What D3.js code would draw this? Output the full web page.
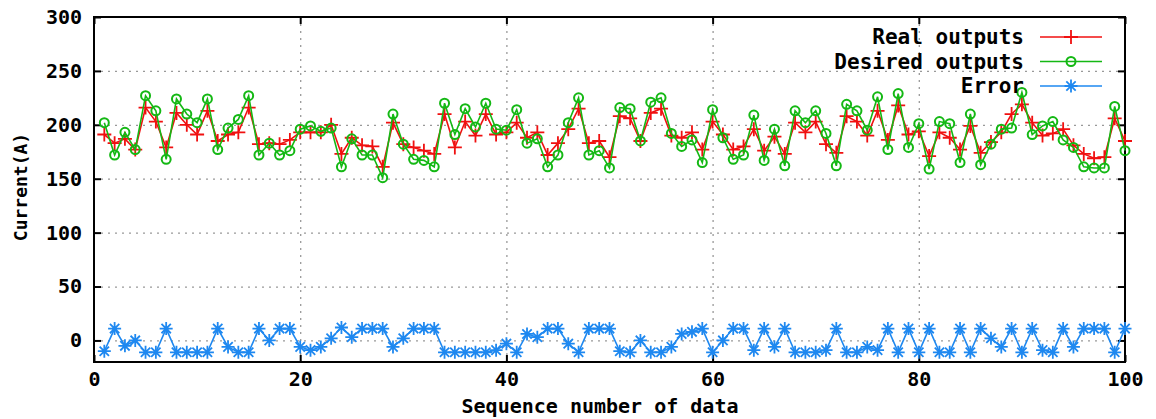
<!DOCTYPE html>
<html>
<head>
<meta charset="utf-8">
<script src="https://cdn.jsdelivr.net/npm/d3@7"></script>
<style>
  body { margin: 0; background: #fff; }
  text { font-family: "DejaVu Sans Mono", "Liberation Mono", monospace; font-weight: bold; fill: #000; }
</style>
</head>
<body>
<div id="chart"></div>
<script>
// sequence numbers 1..100
var seq = d3.range(1, 101);

var realOutputs = [
  191, 183, 187, 177, 216, 203, 179, 211, 200, 191,
  213, 185, 191, 193, 216, 182, 183, 182, 186, 193,
  193, 193, 200, 173, 188, 181, 180, 161, 202, 182,
  179, 176, 173, 210, 179, 203, 190, 210, 191, 193,
  202, 188, 193, 172, 183, 196, 215, 183, 185, 170,
  208, 206, 185, 211, 215, 190, 188, 193, 177, 203,
  191, 177, 180, 196, 176, 189, 173, 202, 193, 203,
  182, 174, 208, 203, 190, 213, 186, 218, 191, 194,
  171, 193, 188, 177, 199, 174, 184, 193, 210, 219,
  202, 190, 192, 196, 181, 173, 169, 170, 206, 185
];

var desiredOutputs = [
  202, 172, 193, 177, 227, 213, 168, 224, 210, 202,
  224, 177, 197, 205, 227, 172, 183, 172, 176, 196,
  199, 194, 197, 161, 187, 172, 172, 151, 210, 182,
  168, 167, 161, 220, 191, 215, 198, 220, 196, 195,
  214, 183, 187, 161, 172, 202, 225, 172, 176, 160,
  216, 215, 185, 221, 225, 192, 180, 186, 165, 214,
  188, 168, 172, 209, 167, 196, 162, 213, 202, 213,
  192, 162, 219, 213, 195, 226, 177, 229, 179, 201,
  159, 203, 201, 165, 210, 163, 182, 196, 197, 230,
  191, 199, 203, 186, 179, 161, 160, 160, 217, 176
];

var errorValues = [
  -10, 11, -5, 0, -11, -11, 11, -11, -11, -11,
  -11, 11, -6, -11, -11, 11, 0, 11, 11, -6,
  -9, -6, 2, 12, 3, 11, 11, 11, -6, 2,
  11, 11, 11, -11, -11, -11, -11, -11, -9, -3,
  -11, 6, 3, 11, 11, -3, -11, 11, 11, 11,
  -10, -11, 0, -11, -11, -6, 6, 8, 11, -11,
  0, 11, 11, -9, 11, -6, 11, -11, -11, -11,
  -9, 11, -11, -11, -6, -9, 11, -11, 11, -11,
  11, -11, -11, 11, -11, 11, 2, -6, 11, -11,
  11, -9, -11, 11, -6, 11, 11, 11, -11, 11
];

var xTicks = [0, 20, 40, 60, 80, 100];
var yTicks = [0, 50, 100, 150, 200, 250, 300];

function init() {
    var w = 1156;
    var h = 419;
    var left = 94, right = 1125, top = 17, bottom = 362;

    var svg = d3.select("#chart")
        .append("svg")
        .attr("width", w)
        .attr("height", h);

    var xScale = d3.scaleLinear().domain([0, 100]).range([left, right]);
    var yScale = d3.scaleLinear().domain([-20, 300]).range([bottom, top]);

    // grid lines (dotted)
    svg.append("g")
        .attr("transform", "translate(0," + bottom + ")")
        .call(d3.axisBottom(xScale).tickValues(xTicks.slice(1, -1)).tickSize(-(bottom - top)).tickFormat(""))
        .call(function(g) {
            g.select(".domain").remove();
            g.selectAll("line").attr("stroke", "#999").attr("stroke-width", 1.3).attr("stroke-dasharray", "2,5");
        });
    svg.append("g")
        .attr("transform", "translate(" + left + ",0)")
        .call(d3.axisLeft(yScale).tickValues(yTicks.slice(0, -1)).tickSize(-(right - left)).tickFormat(""))
        .call(function(g) {
            g.select(".domain").remove();
            g.selectAll("line").attr("stroke", "#999").attr("stroke-width", 1.3).attr("stroke-dasharray", "2,5");
        });

    // axes with inward ticks on all four sides
    function styleAxis(g) {
        g.select(".domain").remove();
        g.selectAll("line").attr("stroke", "#000").attr("stroke-width", 2);
        g.selectAll("text")
            .attr("font-family", "DejaVu Sans Mono")
            .attr("font-weight", "bold")
            .attr("font-size", "20px")
            .attr("fill", "#000");
    }
    svg.append("g")
        .attr("transform", "translate(0," + bottom + ")")
        .call(d3.axisBottom(xScale).tickValues(xTicks).tickSizeInner(-7).tickSizeOuter(0).tickPadding(10))
        .call(styleAxis);
    svg.append("g")
        .attr("transform", "translate(0," + top + ")")
        .call(d3.axisTop(xScale).tickValues(xTicks).tickSizeInner(-7).tickSizeOuter(0).tickFormat(""))
        .call(styleAxis);
    svg.append("g")
        .attr("transform", "translate(" + left + ",0)")
        .call(d3.axisLeft(yScale).tickValues(yTicks).tickSizeInner(-7).tickSizeOuter(0).tickPadding(12))
        .call(styleAxis);
    svg.append("g")
        .attr("transform", "translate(" + right + ",0)")
        .call(d3.axisRight(yScale).tickValues(yTicks).tickSizeInner(-7).tickSizeOuter(0).tickFormat(""))
        .call(styleAxis);

    // border
    svg.append("rect")
        .attr("x", left).attr("y", top)
        .attr("width", right - left).attr("height", bottom - top)
        .attr("fill", "none").attr("stroke", "#000").attr("stroke-width", 2);

    // marker paths
    function plusPath(s) {
        return "M" + (-s) + ",0H" + s + "M0," + (-s) + "V" + s;
    }
    function starPath(s) {
        var d = s * 0.72;
        return plusPath(s) + "M" + (-d) + "," + (-d) + "L" + d + "," + d + "M" + (-d) + "," + d + "L" + d + "," + (-d);
    }

    var series = [
        { name: "Real outputs", values: realOutputs, color: "#f01010", marker: "plus" },
        { name: "Desired outputs", values: desiredOutputs, color: "#14b814", marker: "circle" },
        { name: "Error", values: errorValues, color: "#1e88f0", marker: "star" }
    ];

    var line = d3.line()
        .x(function(d) { return xScale(d.x); })
        .y(function(d) { return yScale(d.y); });

    function drawMarker(g, m, color) {
        if (m === "circle") {
            g.append("circle").attr("r", 4.5).attr("fill", "none")
                .attr("stroke", color).attr("stroke-width", 2);
        } else {
            g.append("path").attr("d", m === "plus" ? plusPath(7) : starPath(6.5))
                .attr("fill", "none").attr("stroke", color).attr("stroke-width", 1.8);
        }
    }

    series.forEach(function(s) {
        var pts = seq.map(function(x, i) { return { x: x, y: s.values[i] }; });
        svg.append("path")
            .datum(pts)
            .attr("d", line)
            .attr("fill", "none")
            .attr("stroke", s.color)
            .attr("stroke-width", 1.6);
        svg.selectAll(null)
            .data(pts)
            .enter()
            .append("g")
            .attr("transform", function(d) { return "translate(" + xScale(d.x) + "," + yScale(d.y) + ")"; })
            .each(function() { drawMarker(d3.select(this), s.marker, s.color); });
    });

    // legend
    series.forEach(function(s, i) {
        var ly = 37 + i * 24.5;
        svg.append("text")
            .attr("x", 1024)
            .attr("y", ly)
            .attr("dy", "0.35em")
            .attr("text-anchor", "end")
            .attr("font-size", "21px")
            .text(s.name);
        svg.append("line")
            .attr("x1", 1040).attr("x2", 1102)
            .attr("y1", ly).attr("y2", ly)
            .attr("stroke", s.color).attr("stroke-width", 1.6);
        var g = svg.append("g").attr("transform", "translate(1071," + ly + ")");
        drawMarker(g, s.marker, s.color);
    });

    // axis titles
    svg.append("text")
        .attr("x", 600)
        .attr("y", 406)
        .attr("dy", "0.35em")
        .attr("text-anchor", "middle")
        .attr("font-size", "20px")
        .text("Sequence number of data");

    svg.append("text")
        .attr("transform", "translate(21,187) rotate(-90)")
        .attr("dy", "0.35em")
        .attr("text-anchor", "middle")
        .attr("font-size", "18px")
        .text("Current(A)");
}

window.onload = init;
</script>
</body>
</html>
